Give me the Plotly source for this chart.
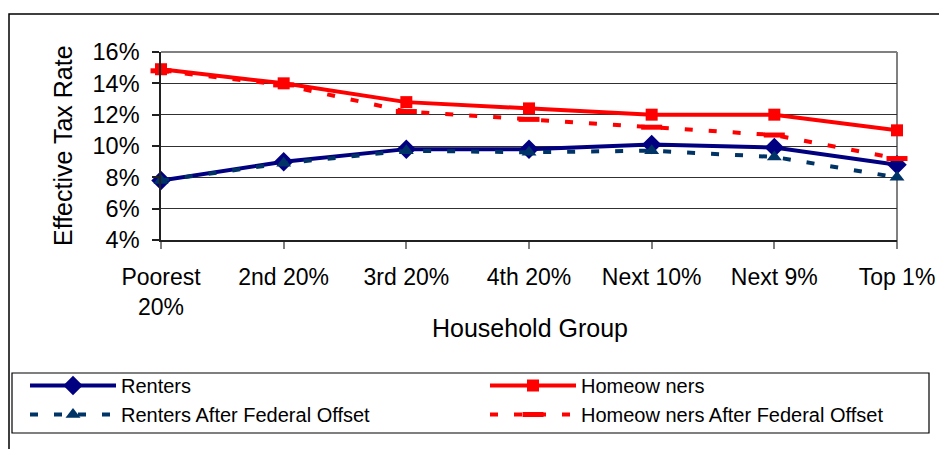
import plotly.graph_objects as go

categories = ["Poorest 20%", "2nd 20%", "3rd 20%", "4th 20%", "Next 10%", "Next 9%", "Top 1%"]
tick_labels = ["Poorest<br>20%", "2nd 20%", "3rd 20%", "4th 20%", "Next 10%", "Next 9%", "Top 1%"]
renters = [7.8, 9.0, 9.8, 9.8, 10.1, 9.9, 8.8]
homeowners = [14.9, 14.0, 12.8, 12.4, 12.0, 12.0, 11.0]
renters_after = [7.8, 8.9, 9.7, 9.6, 9.7, 9.3, 8.0]
homeowners_after = [14.8, 13.9, 12.2, 11.7, 11.2, 10.7, 9.2]
y_ticks = [4, 6, 8, 10, 12, 14, 16]
y_tick_labels = ["4%", "6%", "8%", "10%", "12%", "14%", "16%"]

FONT = "Liberation Sans, Arial, sans-serif"
W, H = 939, 449
ML, MT = 9, 14
GW, GH = W - ML, H - MT


def px_x(p):
    return (p - ML) / GW


def px_y(p):
    return (H - p) / GH


PL, PR, PT, PB = 161, 897, 52, 240

fig = go.Figure()
fig.add_trace(go.Scatter(
    x=categories, y=renters, name="Renters", mode="lines+markers",
    line=dict(color="#000080", width=4),
    marker=dict(symbol="diamond", size=15, color="#000080"),
    cliponaxis=False))
fig.add_trace(go.Scatter(
    x=categories, y=homeowners, name="Homeow ners", mode="lines+markers",
    line=dict(color="#FF0000", width=4),
    marker=dict(symbol="square", size=12, color="#FF0000"),
    cliponaxis=False))
fig.add_trace(go.Scatter(
    x=categories, y=renters_after, name="Renters After Federal Offset", mode="lines+markers",
    line=dict(color="#003366", width=4, dash="8px,16px"),
    marker=dict(symbol="triangle-up", size=13, color="#003366"),
    cliponaxis=False))
fig.add_trace(go.Scatter(
    x=categories, y=homeowners_after, name="Homeow ners After Federal Offset", mode="lines+markers",
    line=dict(color="#FF0000", width=4, dash="8px,16px"),
    marker=dict(symbol="line-ew", size=15, color="#FF0000",
                line=dict(color="#FF0000", width=5)),
    cliponaxis=False))

shapes = [
    # outer chart border (cropped at right and bottom)
    dict(type="rect", xref="paper", yref="paper", x0=0, x1=1.05, y0=-0.05, y1=1,
         line=dict(color="black", width=1.5), fillcolor="rgba(0,0,0,0)", layer="below"),
    # plot area top and right border (gray)
    dict(type="line", xref="paper", yref="paper", x0=px_x(PL), x1=px_x(PR), y0=px_y(PT), y1=px_y(PT),
         line=dict(color="#808080", width=2), layer="below"),
    dict(type="line", xref="paper", yref="paper", x0=px_x(PR), x1=px_x(PR), y0=px_y(PT), y1=px_y(PB + 7),
         line=dict(color="#808080", width=2), layer="below"),
    # legend box
    dict(type="rect", xref="paper", yref="paper", x0=px_x(12), x1=px_x(929), y0=px_y(433), y1=px_y(373),
         line=dict(color="black", width=1.2), fillcolor="rgba(0,0,0,0)", layer="above"),
]

fig.update_layout(
    width=W, height=H,
    margin=dict(l=ML, r=0, t=MT, b=0, autoexpand=False),
    paper_bgcolor="white", plot_bgcolor="white",
    font=dict(family=FONT, color="black"),
    shapes=shapes,
    xaxis=dict(
        domain=[px_x(PL), px_x(PR)], type="category", range=[0, 6],
        tickmode="array", tickvals=categories, ticktext=tick_labels,
        tickfont=dict(size=23, family=FONT, color="black"),
        ticks="outside", ticklen=7, tickcolor="#808080", tickwidth=2,
        ticklabelstandoff=9,
        showline=True, linecolor="#202020", linewidth=1.5,
        showgrid=False, zeroline=False, fixedrange=True),
    yaxis=dict(
        domain=[px_y(PB), px_y(PT)], range=[4, 16],
        tickmode="array", tickvals=y_ticks, ticktext=y_tick_labels,
        tickfont=dict(size=23.5, family=FONT, color="black"),
        ticks="outside", ticklen=7, tickcolor="#202020", tickwidth=1.5,
        ticklabelstandoff=8,
        showline=True, linecolor="#202020", linewidth=1.5,
        showgrid=True, gridcolor="#303030", gridwidth=1,
        zeroline=False, fixedrange=True),
    legend=dict(
        orientation="h", x=px_x(25), xanchor="left", y=px_y(366), yanchor="top",
        borderwidth=0, bgcolor="rgba(0,0,0,0)",
        font=dict(size=20, family=FONT, color="black"),
        itemwidth=86, entrywidth=359, entrywidthmode="pixels",
        traceorder="normal", itemclick=False, itemdoubleclick=False),
    annotations=[
        dict(text="Effective Tax Rate", xref="paper", yref="paper",
             x=px_x(63), y=px_y(146), textangle=-90, showarrow=False,
             xanchor="center", yanchor="middle", font=dict(size=25, family=FONT, color="black")),
        dict(text="Household Group", xref="paper", yref="paper",
             x=px_x(530), y=px_y(328), showarrow=False,
             xanchor="center", yanchor="middle", font=dict(size=25, family=FONT, color="black")),
    ],
    showlegend=True,
    hovermode=False,
)

fig.write_html(
    "out.html",
    config={"displayModeBar": False, "staticPlot": False},
    post_script=("document.documentElement.style.overflow='hidden';"
                 "document.body.style.overflow='hidden';"
                 "document.body.style.margin='0';"),
)
